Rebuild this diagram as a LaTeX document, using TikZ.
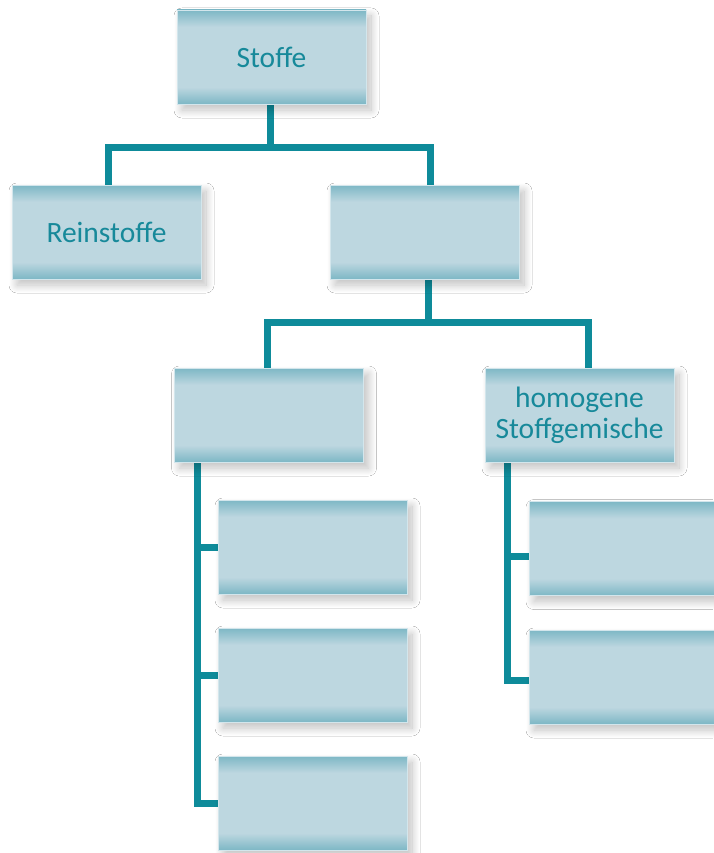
\documentclass[tikz,border=0pt]{standalone}
\usepackage{fontspec}
\setmainfont{Carlito}
\usetikzlibrary{shadows.blur,backgrounds}
\definecolor{bdark}{HTML}{7DB7C5}
\definecolor{blight}{HTML}{BDD7E0}
\definecolor{bedge}{HTML}{D3E6EC}
\definecolor{conncol}{HTML}{0E8B9A}
\definecolor{txtcol}{HTML}{17899A}
\pgfdeclareverticalshading{boxshade}{100bp}{color(0bp)=(bdark); color(25bp)=(bdark); color(34bp)=(blight); color(66bp)=(blight); color(75bp)=(bdark); color(100bp)=(bdark)}
\tikzset{
  box/.style={shade, shading=boxshade, draw=bedge, line width=0.8pt,
    minimum width=189pt, minimum height=94pt, inner sep=0pt,
    text=txtcol, align=center, font=\fontsize{29.5}{31}\selectfont,
    blur shadow={shadow xshift=5pt, shadow yshift=-6pt, shadow blur radius=8pt, shadow blur steps=16, shadow opacity=25}},
  conn/.style={draw=conncol, line width=7pt}
}
\begin{document}
\begin{tikzpicture}[x=1pt,y=-1pt]
\useasboundingbox (0,0) rectangle (713,853);
\node[box] (s) at (271.5,57) {Stoffe};
\node[box] (r) at (106.5,232) {Reinstoffe};
\node[box] (g) at (424.5,232) {};
\node[box] (het) at (269,415) {};
\node[box] (hom) at (579.5,415) {homogene\\Stoffgemische};
\node[box] (l1) at (312.5,547) {};
\node[box] (l2) at (312.5,675) {};
\node[box] (l3) at (312.5,803) {};
\node[box] (r1) at (623.5,548.5) {};
\node[box] (r2) at (623.5,677) {};
\begin{pgfonlayer}{background}
\fill[white] (0,0) rectangle (713,853);
% Stoffe -> Reinstoffe / Gemische
\draw[conn] ([xshift=-1.5pt]s.south) -- ++(0,43) coordinate (j1);
\draw[conn] ([xshift=1.5pt]r.north) |- (j1) -| ([xshift=5.5pt]g.north);
% Gemische -> heterogene / homogene
\draw[conn] ([xshift=3.5pt]g.south) -- ++(0,43) coordinate (j2);
\draw[conn] ([xshift=-2pt]het.north) |- (j2) -| ([xshift=8.5pt]hom.north);
% heterogene trunk
\coordinate (t1) at ([xshift=-72pt]het.south);
\draw[conn] (t1) |- (l3.west);
\draw[conn] (l1.west) -- (l1.west -| t1);
\draw[conn] (l2.west) -- (l2.west -| t1);
% homogene trunk
\coordinate (t2) at ([xshift=-72.5pt]hom.south);
\draw[conn] (t2) |- ([yshift=-3pt]r2.west);
\draw[conn] ([yshift=-8pt]r1.west) -- ([yshift=-8pt]r1.west -| t2);
\end{pgfonlayer}
\end{tikzpicture}
\end{document}
